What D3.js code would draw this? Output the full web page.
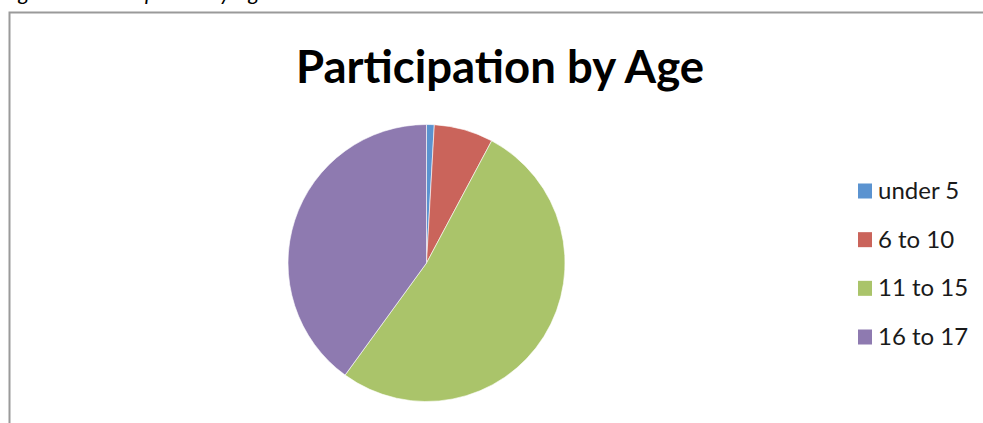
<!DOCTYPE html>
<html>
<head>
<meta charset="utf-8">
<script src="https://cdn.jsdelivr.net/npm/d3@7"></script>
<style>
  html, body { margin: 0; padding: 0; background: #fff; overflow: hidden; }
  svg { display: block; }
</style>
</head>
<body>
<svg id="chart" width="983" height="423"></svg>
<script>
// Participation share by age group (percent of participants)
const ageGroups = ["under 5", "6 to 10", "11 to 15", "16 to 17"];
const participation = [0.9, 6.9, 52.2, 40.0];
const sliceColors = ["#5B93D0", "#CA645B", "#AAC46A", "#8E7AB0"];
const chartTitle = "Participation by Age";
const figureCaption = "Figure 4: Participation by Age";

const svg = d3.select("#chart");
const W = 983, H = 423;

// Caption line above the chart box (runs off the top edge)
svg.append("text")
  .attr("x", 2)
  .attr("y", 0)
  .attr("font-family", "Lato, 'Open Sans', sans-serif")
  .attr("font-style", "italic")
  .attr("font-size", 22)
  .attr("fill", "#000")
  .text(figureCaption);

// Chart area frame
svg.append("rect")
  .attr("x", 9.5)
  .attr("y", 12.5)
  .attr("width", W + 20)
  .attr("height", H + 20)
  .attr("fill", "#fff")
  .attr("stroke", "#9a9a9a")
  .attr("stroke-width", 2);

// Title
svg.append("text")
  .attr("x", 500)
  .attr("y", 83)
  .attr("text-anchor", "middle")
  .attr("font-family", "Lato, 'Open Sans', sans-serif")
  .attr("font-weight", "bold")
  .attr("font-size", 45.5)
  .attr("fill", "#000")
  .text(chartTitle);

// Pie
const cx = 426.5, cy = 263, radius = 138.5;
const color = d3.scaleOrdinal().domain(ageGroups).range(sliceColors);
const pie = d3.pie().sort(null).value(d => d.value);
const arc = d3.arc().innerRadius(0).outerRadius(radius);
const data = ageGroups.map((g, i) => ({ group: g, value: participation[i] }));

svg.append("g")
  .attr("transform", `translate(${cx},${cy})`)
  .selectAll("path")
  .data(pie(data))
  .join("path")
  .attr("d", arc)
  .attr("fill", d => color(d.data.group))
  .attr("stroke", "#fff")
  .attr("stroke-width", 0.6);

// Legend
const legendY = d3.scalePoint().domain(ageGroups).range([191, 337]);
const legend = svg.append("g")
  .selectAll("g")
  .data(ageGroups)
  .join("g")
  .attr("transform", d => `translate(858,${legendY(d)})`);

legend.append("rect")
  .attr("x", 0)
  .attr("y", -7.5)
  .attr("width", 14)
  .attr("height", 15)
  .attr("fill", d => color(d));

legend.append("text")
  .attr("x", 20)
  .attr("y", 8)
  .attr("font-family", "Lato, 'Open Sans', sans-serif")
  .attr("font-size", 24)
  .attr("fill", "#1a1a1a")
  .text(d => d);
</script>
</body>
</html>
